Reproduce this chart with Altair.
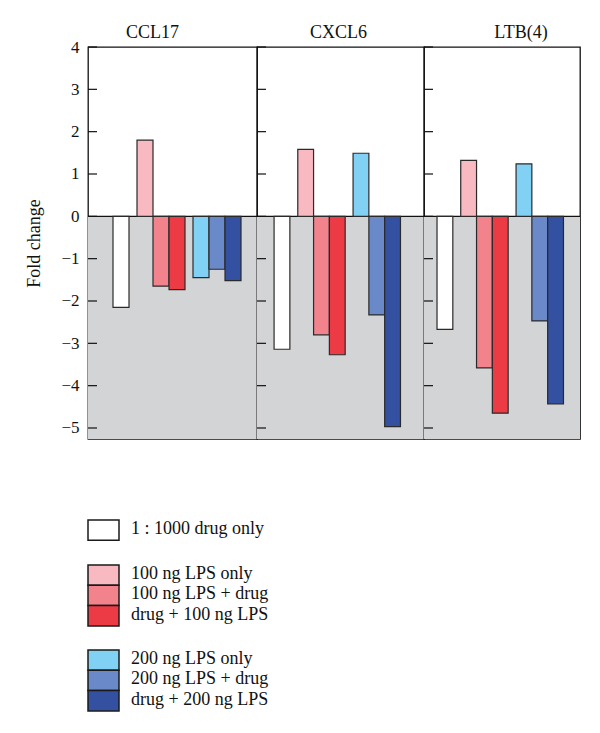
import altair as alt
import pandas as pd

FONT = "Liberation Serif"

GENES = ["CCL17", "CXCL6", "LTB(4)"]
CONDITIONS = [
    "1 : 1000 drug only",
    "100 ng LPS only",
    "100 ng LPS + drug",
    "drug + 100 ng LPS",
    "200 ng LPS only",
    "200 ng LPS + drug",
    "drug + 200 ng LPS",
]
COLORS = ["#ffffff", "#f8b9c1", "#f2838d", "#ec3b44", "#80d1f3", "#6a89c8", "#3451a1"]

CCL17 = [-2.15, 1.80, -1.65, -1.73, -1.45, -1.25, -1.52]
CXCL6 = [-3.14, 1.58, -2.80, -3.27, 1.49, -2.33, -4.97]
LTB4 = [-2.67, 1.32, -3.58, -4.65, 1.24, -2.47, -4.43]
VALUES = [CCL17, CXCL6, LTB4]

Y_TICKS = [-5, -4, -3, -2, -1, 0, 1, 2, 3, 4]
Y_MIN, Y_MAX = -5.26, 4.0

# half-bar slots: bars span two slots, single-slot gaps between groups
SLOTS = [
    CONDITIONS[0], "g1", "g2",
    CONDITIONS[1], "g3", CONDITIONS[2], "g4", CONDITIONS[3], "g5", "g6",
    CONDITIONS[4], "g7", CONDITIONS[5], "g8", CONDITIONS[6],
]

WIDTHS = [169, 167, 156]
LEAD = [3, 2, 2]
TRAIL = [2, 3, 2]
PAD_OUTER = [0.5625, 0.57, 0.37]
ALIGN = [0.556, 0.58, 0.2]
TITLE_DX = [-20, -2, 19]
TITLE_OFFSET = [-4, 4, 4]
HEIGHT = 392


def panel(i):
    w = WIDTHS[i]
    df = pd.DataFrame({"condition": CONDITIONS, "value": VALUES[i]})
    domain = [f"lead{k}" for k in range(LEAD[i])] + SLOTS + [f"trail{k}" for k in range(TRAIL[i])]
    yscale = alt.Scale(domain=[Y_MIN, Y_MAX], nice=False, zero=False)
    if i == 0:
        yaxis = alt.Axis(
            values=Y_TICKS, ticks=False, domain=False, grid=False,
            labelPadding=9, labelFont=FONT, labelFontSize=17, labelColor="#111",
            title="Fold change", titleFont=FONT, titleFontSize=18,
            titleFontWeight="normal", titleColor="#111", titlePadding=17,
        )
    else:
        yaxis = None

    one = pd.DataFrame({"a": [0]})
    bg = alt.Chart(one).mark_rect(color="#d3d4d6").encode(
        x=alt.value(0), x2=alt.value(w),
        y=alt.Y(datum=0, scale=yscale, axis=yaxis, title="Fold change"),
        y2=alt.datum(Y_MIN),
    )
    bars = alt.Chart(df).mark_bar(
        width=alt.RelativeBandSize(2), stroke="#2a2a2a", strokeWidth=1.2
    ).encode(
        x=alt.X("condition:N",
                scale=alt.Scale(domain=domain, paddingInner=0,
                                paddingOuter=PAD_OUTER[i], align=ALIGN[i]),
                axis=None),
        y=alt.Y("value:Q", scale=yscale, axis=yaxis, title="Fold change"),
        fill=alt.Color("condition:N",
                       scale=alt.Scale(domain=CONDITIONS, range=COLORS),
                       legend=None),
    )
    zero = alt.Chart(one).mark_rule(color="#111", strokeWidth=1.3).encode(
        x=alt.value(0), x2=alt.value(w),
        y=alt.Y(datum=0, scale=yscale, axis=yaxis, title="Fold change"),
    )
    ticks = alt.Chart(pd.DataFrame({"t": Y_TICKS})).mark_rule(
        color="#111", strokeWidth=1.2
    ).encode(
        x=alt.value(0), x2=alt.value(9),
        y=alt.Y("t:Q", scale=yscale, axis=yaxis, title="Fold change"),
    )
    return alt.layer(bg, zero, bars, ticks).properties(
        width=w,
        height=HEIGHT,
        title=alt.TitleParams(
            text=GENES[i], font=FONT, fontSize=18, fontWeight="normal",
            color="#111", anchor="middle", dx=TITLE_DX[i], offset=TITLE_OFFSET[i],
        ),
        view=alt.ViewBackground(stroke="#111", strokeWidth=1.3),
    )


main = alt.hconcat(*[panel(i) for i in range(3)], spacing=0, bounds="flush")

LEGEND_GROUPS = [[0], [1, 2, 3], [4, 5, 6]]


def legend_group(idx):
    labels = [CONDITIONS[k] for k in idx]
    cols = [COLORS[k] for k in idx]
    df = pd.DataFrame({"label": labels})
    y = alt.Y("label:N", sort=labels, axis=None,
              scale=alt.Scale(domain=labels, paddingInner=0, paddingOuter=0))
    rect = alt.Chart(df).mark_rect(stroke="#1a1a1a", strokeWidth=1.5).encode(
        y=y, x=alt.value(0), x2=alt.value(31),
        fill=alt.Color("label:N", scale=alt.Scale(domain=labels, range=cols),
                       legend=None),
    )
    text = alt.Chart(df).mark_text(
        align="left", baseline="middle", font=FONT, fontSize=18, color="#111", dy=-1
    ).encode(y=y, x=alt.value(43), text="label:N")
    return alt.layer(rect, text).properties(
        width=300, height=20.3 * len(labels),
        view=alt.ViewBackground(stroke=None),
    )


legend = alt.vconcat(*[legend_group(g) for g in LEGEND_GROUPS], spacing=24, bounds="flush")

chart = alt.vconcat(main, legend, spacing=79).configure_view(stroke=None).properties(
    padding={"left": 17, "top": 15, "right": 5, "bottom": 5}
)

chart.save("out.html", embed_options={"renderer": "svg", "actions": False})
